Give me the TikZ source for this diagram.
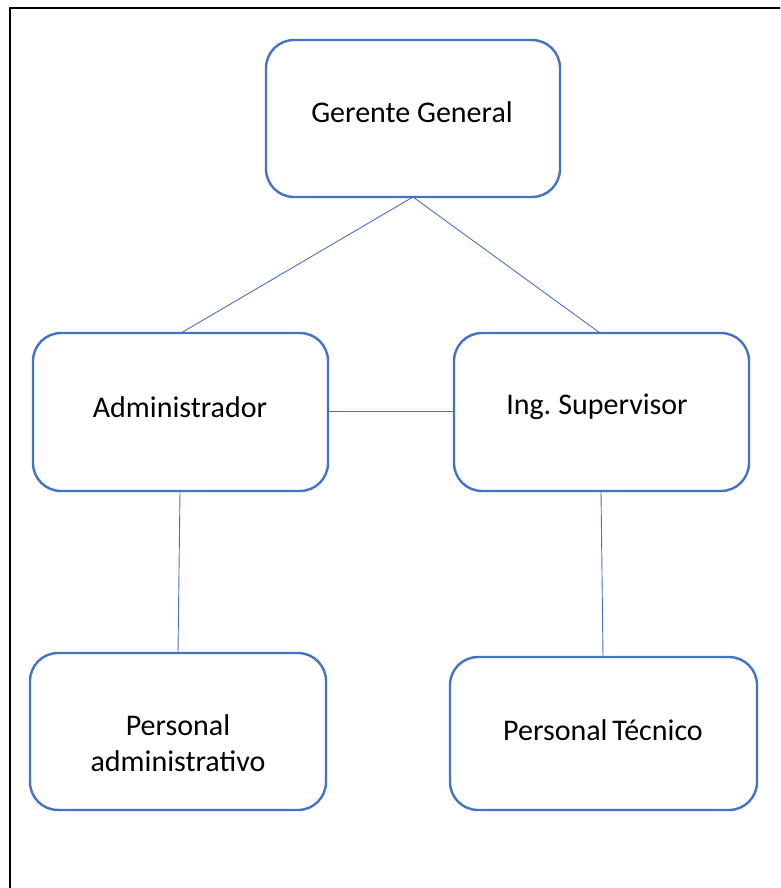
\documentclass[tikz,border=0pt]{standalone}
\usepackage{fontspec}
\setmainfont{Carlito}
\definecolor{boxblue}{HTML}{4472C4}
\begin{document}
\begin{tikzpicture}[x=1pt,y=-1pt,
  orgbox/.style={draw=boxblue,line width=2.4pt,rounded corners=28pt,fill=white,inner sep=0pt},
  lbl/.style={font=\fontsize{30}{36}\selectfont,align=center,inner sep=0pt},
  link/.style={draw=boxblue,line width=0.9pt}]
\useasboundingbox (0,0) rectangle (780,888);
\begin{scope}
\clip (0,0) rectangle (780,888);
\draw[line width=2pt,black] (10,8) rectangle (800,900);
\end{scope}
\node[orgbox,minimum width=294pt,minimum height=157pt] (gg) at (413,118.5) {};
\node[lbl] (ggt) at (412,112) {Gerente General};
\node[orgbox,minimum width=295pt,minimum height=158pt] (adm) at (180.5,412) {};
\node[lbl] (admt) at (180,407) {Administrador};
\node[orgbox,minimum width=295pt,minimum height=158pt] (ing) at (601.5,412) {};
\node[lbl] (ingt) at (597,407) {Ing.\hspace{-2pt} Supervisor};
\node[orgbox,minimum width=296pt,minimum height=157pt] (pa) at (178,731.5) {};
\node[lbl] (pat) at (178,743) {Personal\\administrativo};
\node[orgbox,minimum width=307pt,minimum height=153pt] (pt) at (603.5,733.5) {};
\node[lbl] (ptt) at (603,730) {Personal\hspace{-2pt} Técnico};
\coordinate (ggb) at (413,197);
\draw[link] (ggb) -- (181,333);
\draw[link] (ggb) -- (600,333);
\draw[link] (adm.east) ++(0,-1) -- (ing.west |- 0,411);
\draw[link] (180,491) -- (178,653);
\draw[link] (601,491) -- (603,657);
\end{tikzpicture}
\end{document}
